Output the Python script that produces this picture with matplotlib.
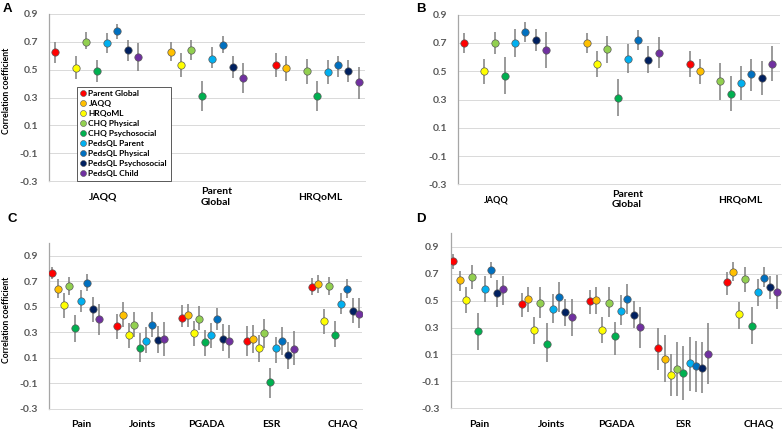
import matplotlib
matplotlib.use('Agg')
import matplotlib.pyplot as plt
from matplotlib.lines import Line2D

plt.rcParams['font.family'] = ['Lato', 'DejaVu Sans']

# ---- series (same order in every panel) ----
series = ['Parent Global', 'JAQQ', 'HRQoML', 'CHQ Physical', 'CHQ Psychosocial',
          'PedsQL Parent', 'PedsQL Physical', 'PedsQL Psychosocial', 'PedsQL Child']
colors = ['#FF0000', '#FFC000', '#FFFF00', '#92D050', '#00B050',
          '#00B0F0', '#0070C0', '#002060', '#7030A0']

# ---- panel A ----
a_groups = ['JAQQ', 'Parent\nGlobal', 'HRQoML']
a_r = [[0.63, None, 0.51, 0.70, 0.49, 0.69, 0.78, 0.64, 0.59],
       [None, 0.63, 0.53, 0.64, 0.31, 0.58, 0.68, 0.52, 0.44],
       [0.53, 0.51, None, 0.49, 0.31, 0.48, 0.53, 0.49, 0.41]]
a_lo = [[0.55, None, 0.43, 0.65, 0.41, 0.62, 0.72, 0.56, 0.49],
        [None, 0.56, 0.45, 0.57, 0.20, 0.51, 0.62, 0.44, 0.33],
        [0.45, 0.42, None, 0.40, 0.20, 0.40, 0.45, 0.41, 0.29]]
a_hi = [[0.70, None, 0.60, 0.77, 0.57, 0.76, 0.83, 0.71, 0.69],
        [None, 0.70, 0.62, 0.71, 0.42, 0.66, 0.74, 0.60, 0.55],
        [0.62, 0.60, None, 0.58, 0.42, 0.57, 0.60, 0.57, 0.52]]

# ---- panel B ----
b_groups = ['JAQQ', 'Parent\nGlobal', 'HRQoML']
b_r = [[0.70, None, 0.50, 0.70, 0.47, 0.70, 0.78, 0.72, 0.65],
       [None, 0.70, 0.55, 0.66, 0.31, 0.59, 0.72, 0.58, 0.63],
       [0.55, 0.50, None, 0.43, 0.34, 0.42, 0.48, 0.45, 0.55]]
b_lo = [[0.63, None, 0.41, 0.62, 0.34, 0.60, 0.71, 0.64, 0.52],
        [None, 0.63, 0.46, 0.56, 0.185, 0.49, 0.65, 0.49, 0.52],
        [0.46, 0.41, None, 0.30, 0.22, 0.30, 0.36, 0.33, 0.43]]
b_hi = [[0.77, None, 0.585, 0.775, 0.60, 0.80, 0.845, 0.80, 0.775],
        [None, 0.77, 0.64, 0.75, 0.445, 0.69, 0.79, 0.68, 0.74],
        [0.64, 0.585, None, 0.56, 0.47, 0.54, 0.59, 0.57, 0.68]]

# ---- panel C ----
c_groups = ['Pain', 'Joints', 'PGADA', 'ESR', 'CHAQ']
c_r = [[0.765, 0.64, 0.51, 0.665, 0.335, 0.545, 0.685, 0.485, 0.405],
       [0.35, 0.435, 0.275, 0.36, 0.18, 0.23, 0.355, 0.24, 0.25],
       [0.415, 0.435, 0.295, 0.405, 0.22, 0.28, 0.40, 0.25, 0.23],
       [0.23, 0.245, 0.175, 0.29, -0.09, 0.175, 0.23, 0.12, 0.17],
       [0.655, 0.675, 0.385, 0.665, 0.28, 0.525, 0.64, 0.465, 0.445]]
c_lo = [[0.72, 0.565, 0.415, 0.595, 0.225, 0.46, 0.62, 0.38, 0.28],
        [0.25, 0.34, 0.175, 0.265, 0.065, 0.135, 0.265, 0.135, 0.11],
        [0.34, 0.34, 0.19, 0.32, 0.11, 0.18, 0.32, 0.15, 0.10],
        [0.11, 0.135, 0.065, 0.18, -0.215, 0.06, 0.12, 0.01, 0.045],
        [0.59, 0.61, 0.285, 0.59, 0.185, 0.44, 0.565, 0.37, 0.33]]
c_hi = [[0.81, 0.715, 0.605, 0.735, 0.435, 0.63, 0.755, 0.575, 0.52],
        [0.445, 0.535, 0.37, 0.46, 0.29, 0.34, 0.455, 0.35, 0.38],
        [0.51, 0.52, 0.39, 0.505, 0.32, 0.375, 0.49, 0.365, 0.355],
        [0.35, 0.355, 0.28, 0.40, 0.02, 0.265, 0.34, 0.22, 0.31],
        [0.725, 0.745, 0.48, 0.735, 0.39, 0.605, 0.715, 0.565, 0.565]]

# ---- panel D ----
d_groups = ['Pain', 'Joints', 'PGADA', 'ESR', 'CHAQ']
d_r = [[0.795, 0.655, 0.505, 0.675, 0.275, 0.585, 0.725, 0.555, 0.585],
       [0.475, 0.515, 0.285, 0.485, 0.18, 0.435, 0.525, 0.415, 0.375],
       [0.495, 0.505, 0.285, 0.485, 0.235, 0.425, 0.515, 0.395, 0.305],
       [0.145, 0.065, -0.055, -0.01, -0.035, 0.035, 0.015, 0.0, 0.105],
       [0.64, 0.715, 0.40, 0.66, 0.315, 0.565, 0.665, 0.60, 0.565]]
d_lo = [[0.735, 0.575, 0.41, 0.585, 0.135, 0.49, 0.67, 0.455, 0.47],
        [0.38, 0.415, 0.18, 0.37, 0.045, 0.33, 0.415, 0.31, 0.235],
        [0.40, 0.40, 0.185, 0.38, 0.095, 0.32, 0.40, 0.30, 0.145],
        [-0.015, -0.105, -0.21, -0.21, -0.24, -0.17, -0.18, -0.19, -0.12],
        [0.545, 0.645, 0.29, 0.565, 0.175, 0.46, 0.60, 0.51, 0.44]]
d_hi = [[0.85, 0.72, 0.60, 0.765, 0.41, 0.68, 0.79, 0.655, 0.68],
        [0.555, 0.60, 0.38, 0.60, 0.33, 0.55, 0.64, 0.515, 0.51],
        [0.58, 0.60, 0.38, 0.60, 0.34, 0.54, 0.62, 0.50, 0.455],
        [0.30, 0.245, 0.105, 0.195, 0.165, 0.23, 0.20, 0.195, 0.33],
        [0.71, 0.785, 0.49, 0.75, 0.45, 0.66, 0.75, 0.685, 0.69]]

yticks = [-0.3, -0.1, 0.1, 0.3, 0.5, 0.7, 0.9]
ytick_labels = ['-0.3', '-0.1', '0.1', '0.3', '0.5', '0.7', '0.9']


def draw_panel(ax, bases, r, lo, hi):
    for s in range(len(series)):
        xs, ys, el, eh = [], [], [], []
        for g in range(len(bases)):
            if r[g][s] is None:
                continue
            xs.append(bases[g] + s)
            ys.append(r[g][s])
            el.append(r[g][s] - lo[g][s])
            eh.append(hi[g][s] - r[g][s])
        ax.errorbar(xs, ys, yerr=[el, eh], fmt='o', ms=5.3, mfc=colors[s],
                    mec='#595959', mew=0.5, ecolor='#7f7f7f', elinewidth=1.1,
                    capsize=0, zorder=3)


def style_axes(ax, ytop, xlim):
    ax.set_ylim(-0.3, ytop)
    ax.set_xlim(*xlim)
    ax.set_yticks(yticks)
    ax.set_yticklabels(ytick_labels, color='#595959', fontsize=7.5, fontweight='bold')
    ax.set_xticks([])
    ax.tick_params(axis='y', length=0, pad=8)
    ax.yaxis.grid(True, color='#d9d9d9', lw=0.7)
    ax.set_axisbelow(True)
    for sp in ['top', 'right']:
        ax.spines[sp].set_visible(False)
    ax.spines['bottom'].set_color('#d9d9d9')
    ax.spines['bottom'].set_linewidth(0.7)
    ax.spines['left'].set_color('#a6a6a6')
    ax.spines['left'].set_linewidth(0.9)


def group_labels(ax, xs, labels, yfrac, sizes):
    for x, lab, fs in zip(xs, labels, sizes):
        ax.text(x, yfrac, lab, transform=ax.get_xaxis_transform(), ha='center',
                va='center', fontsize=fs, fontweight='bold', multialignment='left')


fig = plt.figure(figsize=(7.82, 4.32), dpi=100)

axA = fig.add_axes([0.0627, 0.581, 0.4041, 0.3866])
draw_panel(axA, [0, 10.1, 21.2], a_r, a_lo, a_hi)
style_axes(axA, 0.9, (-0.58, 29.8))
group_labels(axA, [4.6, 15.5, 25.5], a_groups, -0.096, [7.5, 7.5, 7.5])

axB = fig.add_axes([0.5857, 0.573, 0.4117, 0.393])
draw_panel(axB, [0, 10.95, 21.96], b_r, b_lo, b_hi)
style_axes(axB, 0.9, (-0.55, 30.74))
group_labels(axB, [3.14, 15.9, 26.85], b_groups, -0.09, [6.5, 7.5, 7.5])

axC = fig.add_axes([0.0627, 0.054, 0.4002, 0.3835])
draw_panel(axC, [0, 11, 22, 33, 44], c_r, c_lo, c_hi)
style_axes(axC, 1.0, (-0.46, 52.5))
group_labels(axC, [4.96, 15.4, 26.1, 37.2, 49.3], c_groups, -0.094, [7.5] * 5)

axD = fig.add_axes([0.5763, 0.0549, 0.4237, 0.405])
draw_panel(axD, [0, 10.94, 21.87, 32.8, 43.74], d_r, d_lo, d_hi)
style_axes(axD, 1.0, (-0.42, 52.6))
group_labels(axD, [4.16, 15.74, 26.03, 36.8, 48.96], d_groups, -0.091,
             [7.5, 7.5, 7.5, 6.5, 7.5])

# legend in panel A
handles = [Line2D([], [], marker='o', ls='none', ms=4.3, mfc=c, mec='#595959', mew=0.4)
           for c in colors]
leg = axA.legend(handles, series, loc='lower left', bbox_to_anchor=(0.089, 0.0),
                 prop={'size': 6.0, 'weight': 'bold'}, frameon=True, fancybox=False,
                 edgecolor='#404040', framealpha=1, handlelength=0.6,
                 handletextpad=0.3, labelspacing=0.36, borderpad=0.45,
                 borderaxespad=0)
leg.get_frame().set_linewidth(0.6)

# y axis titles
fig.text(0.0077, 0.79, 'Correlation coefficient', rotation=90, ha='center', va='center',
         fontsize=6.2, fontweight='bold')
fig.text(0.0077, 0.259, 'Correlation coefficient', rotation=90, ha='center', va='center',
         fontsize=6.2, fontweight='bold')

# panel letters
for x, y, letter in [(0.004, 0.98, 'A'), (0.532, 0.98, 'B'),
                     (0.009, 0.492, 'C'), (0.532, 0.492, 'D')]:
    fig.text(x, y, letter, ha='left', va='center', fontsize=9.5, fontweight='bold',
             family='Liberation Sans')

fig.savefig('out.png', dpi=100)
